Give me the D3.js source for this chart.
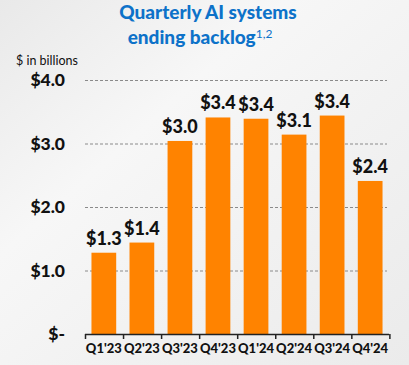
<!DOCTYPE html>
<html>
<head>
<meta charset="utf-8">
<script src="https://cdn.jsdelivr.net/npm/d3@7"></script>
<style>
  body { margin: 0; padding: 0; }
  svg { display: block; }
</style>
</head>
<body>
<div id="chart"></div>
<script>
const quarters = ["Q1'23", "Q2'23", "Q3'23", "Q4'23", "Q1'24", "Q2'24", "Q3'24", "Q4'24"]
const backlog = [1.28, 1.44, 3.04, 3.41, 3.39, 3.14, 3.44, 2.41]
const barLabels = ["$1.3", "$1.4", "$3.0", "$3.4", "$3.4", "$3.1", "$3.4", "$2.4"]
const yTicks = [0, 1, 2, 3, 4]
const yTickLabels = ["$-", "$1.0", "$2.0", "$3.0", "$4.0"]

const W = 409, H = 365
const MARGIN = { LEFT: 85, RIGHT: 20, TOP: 80, BOTTOM: 31 }
const WIDTH = W - MARGIN.LEFT - MARGIN.RIGHT
const HEIGHT = H - MARGIN.TOP - MARGIN.BOTTOM

const svg = d3.select("#chart").append("svg")
  .attr("width", W)
  .attr("height", H)

// background
const defs = svg.append("defs")
const grad = defs.append("linearGradient")
  .attr("id", "bg")
  .attr("x1", "0").attr("y1", "0").attr("x2", "1").attr("y2", "1")
grad.append("stop").attr("offset", "0%").attr("stop-color", "#e9e9e9")
grad.append("stop").attr("offset", "35%").attr("stop-color", "#f7f7f7")
grad.append("stop").attr("offset", "60%").attr("stop-color", "#f2f2f2")
grad.append("stop").attr("offset", "100%").attr("stop-color", "#ebebeb")
svg.append("rect").attr("width", W).attr("height", H).attr("fill", "url(#bg)")

// title
const title = svg.append("text")
  .attr("text-anchor", "middle")
  .attr("font-family", "Lato")
  .attr("font-weight", "900")
  .attr("font-size", "19px")
  .attr("fill", "#0d72c9")
title.append("tspan").attr("x", 208).attr("y", 19).text("Quarterly AI systems")
title.append("tspan").attr("x", 200).attr("y", 44).text("ending backlog")
title.append("tspan")
  .attr("font-size", "12px")
  .attr("font-weight", "400")
  .attr("dy", -6)
  .text("1,2")

svg.append("text")
  .attr("x", 47)
  .attr("y", 65)
  .attr("text-anchor", "middle")
  .attr("font-family", "Lato")
  .attr("font-size", "12.5px")
  .attr("fill", "#111")
  .text("$ in billions")

const g = svg.append("g")
  .attr("transform", `translate(${MARGIN.LEFT}, ${MARGIN.TOP})`)

const x = d3.scaleBand()
  .domain(quarters)
  .range([0, 304])
  .paddingInner(0.35)
  .paddingOuter(0.17)

const y = d3.scaleLinear()
  .domain([0, 4])
  .range([254, 0])

// gridlines
g.selectAll(".grid")
  .data(yTicks.slice(1))
  .enter().append("line")
  .attr("class", "grid")
  .attr("x1", 0)
  .attr("x2", 302)
  .attr("y1", d => y(d) + 0.5)
  .attr("y2", d => y(d) + 0.5)
  .attr("stroke", "#8a8a8a")
  .attr("stroke-width", 1)
  .attr("stroke-dasharray", "3,2")

// y tick labels
g.selectAll(".ylab")
  .data(yTicks)
  .enter().append("text")
  .attr("class", "ylab")
  .attr("x", -20)
  .attr("y", d => y(d) + 6)
  .attr("text-anchor", "end")
  .attr("font-family", "Lato")
  .attr("font-weight", "900")
  .attr("font-size", "17.5px")
  .attr("fill", "#111")
  .text((d, i) => yTickLabels[i])

// bars
g.selectAll("rect.bar")
  .data(backlog)
  .enter().append("rect")
  .attr("class", "bar")
  .attr("x", (d, i) => x(quarters[i]))
  .attr("y", d => y(d))
  .attr("width", x.bandwidth())
  .attr("height", d => y(0) - y(d))
  .attr("fill", "#ff8300")

// bar value labels
g.selectAll(".val")
  .data(backlog)
  .enter().append("text")
  .attr("class", "val")
  .attr("x", (d, i) => x(quarters[i]) + x.bandwidth() / 2)
  .attr("y", d => y(d) - 8)
  .attr("text-anchor", "middle")
  .attr("font-family", "Lato")
  .attr("font-weight", "900")
  .attr("font-size", "18px")
  .attr("fill", "#111")
  .text((d, i) => barLabels[i])

// x axis
const xAxisCall = d3.axisBottom(x).tickSize(0).tickPadding(10)
const xAxis = g.append("g")
  .attr("transform", `translate(0, ${y(0)})`)
  .call(xAxisCall)
xAxis.select(".domain").remove()
xAxis.selectAll("text")
  .attr("font-family", "Lato")
  .attr("font-weight", "900")
  .attr("font-size", "13px")
  .attr("fill", "#111")

// baseline with boundary ticks
g.append("line")
  .attr("x1", 0).attr("x2", 304)
  .attr("y1", y(0) + 0.5).attr("y2", y(0) + 0.5)
  .attr("stroke", "#222").attr("stroke-width", 1.5)
g.selectAll(".btick")
  .data(d3.range(quarters.length + 1))
  .enter().append("line")
  .attr("class", "btick")
  .attr("x1", i => i * x.step() + 0.5).attr("x2", i => i * x.step() + 0.5)
  .attr("y1", y(0)).attr("y2", y(0) + 5)
  .attr("stroke", "#222").attr("stroke-width", 1.5)
</script>
</body>
</html>
